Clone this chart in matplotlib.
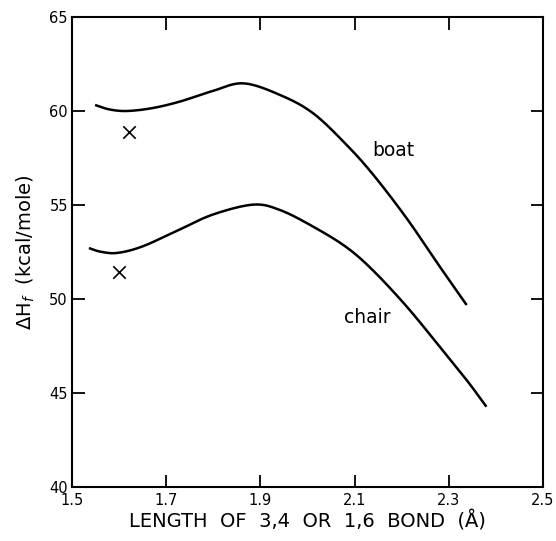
import numpy as np
import matplotlib.pyplot as plt

# curves
boat_x = [1.549, 1.580, 1.617, 1.670, 1.729, 1.797, 1.864, 1.942, 2.012,
          2.083, 2.140, 2.211, 2.281, 2.338]
boat_y = [60.32, 60.08, 60.00, 60.15, 60.50, 61.05, 61.47, 60.85, 59.88,
          58.20, 56.60, 54.28, 51.72, 49.68]

chair_x = [1.536, 1.560, 1.596, 1.650, 1.729, 1.800, 1.885, 1.942, 2.012,
           2.083, 2.140, 2.211, 2.281, 2.338, 2.380]
chair_y = [52.71, 52.52, 52.45, 52.80, 53.70, 54.50, 55.02, 54.73, 53.85,
           52.75, 51.50, 49.59, 47.46, 45.69, 44.27]

x_marks = [1.621, 1.600]
y_marks = [58.88, 51.44]

xticks = [1.5, 1.7, 1.9, 2.1, 2.3, 2.5]
yticks = [40, 45, 50, 55, 60, 65]


def smooth(xs, ys):
    # Catmull-Rom curve through the read points
    xs = np.asarray(xs)
    ys = np.asarray(ys)
    px = np.concatenate(([2 * xs[0] - xs[1]], xs, [2 * xs[-1] - xs[-2]]))
    py = np.concatenate(([2 * ys[0] - ys[1]], ys, [2 * ys[-1] - ys[-2]]))
    out_x, out_y = [], []
    t = np.linspace(0, 1, 20, endpoint=False)
    for i in range(1, len(px) - 2):
        for arr, out in ((px, out_x), (py, out_y)):
            p0, p1, p2, p3 = arr[i - 1], arr[i], arr[i + 1], arr[i + 2]
            out.extend(0.5 * (2 * p1 + (-p0 + p2) * t + (2 * p0 - 5 * p1 + 4 * p2 - p3) * t ** 2
                              + (-p0 + 3 * p1 - 3 * p2 + p3) * t ** 3))
    out_x.append(xs[-1])
    out_y.append(ys[-1])
    return out_x, out_y


plt.rcParams['font.family'] = ['DejaVu Sans']
fig = plt.figure(figsize=(5.56, 5.41), dpi=100)
ax = fig.add_axes([0.1295, 0.0998, 0.847, 0.8688])

bx, by = smooth(boat_x, boat_y)
cx, cy = smooth(chair_x, chair_y)
ax.plot(bx, by, color='black', lw=1.8, solid_capstyle='butt')
ax.plot(cx, cy, color='black', lw=1.8, solid_capstyle='butt')
ax.scatter(x_marks, y_marks, marker='x', s=80, color='black', linewidths=1.2)

ax.text(2.182, 57.9, 'boat', fontsize=13.5, ha='center', va='center')
ax.text(2.128, 49.04, 'chair', fontsize=13.5, ha='center', va='center')

ax.set_xlim(1.5, 2.5)
ax.set_ylim(40, 65)
ax.set_xticks(xticks)
ax.set_yticks(yticks)
ax.set_xticklabels(['1.5', '1.7', '1.9', '2.1', '2.3', '2.5'])
ax.tick_params(direction='in', length=9, width=1.3, labelsize=10.5,
               top=True, right=True, pad=4)
ax.tick_params(axis='y', pad=3)
for s in ax.spines.values():
    s.set_linewidth(1.5)

ax.set_xlabel('LENGTH  OF  3,4  OR  1,6  BOND  (Å)', fontsize=14, labelpad=2)
ax.set_ylabel('ΔH$_f$  (kcal/mole)', fontsize=14, labelpad=9)

plt.savefig('out.png', dpi=100)
